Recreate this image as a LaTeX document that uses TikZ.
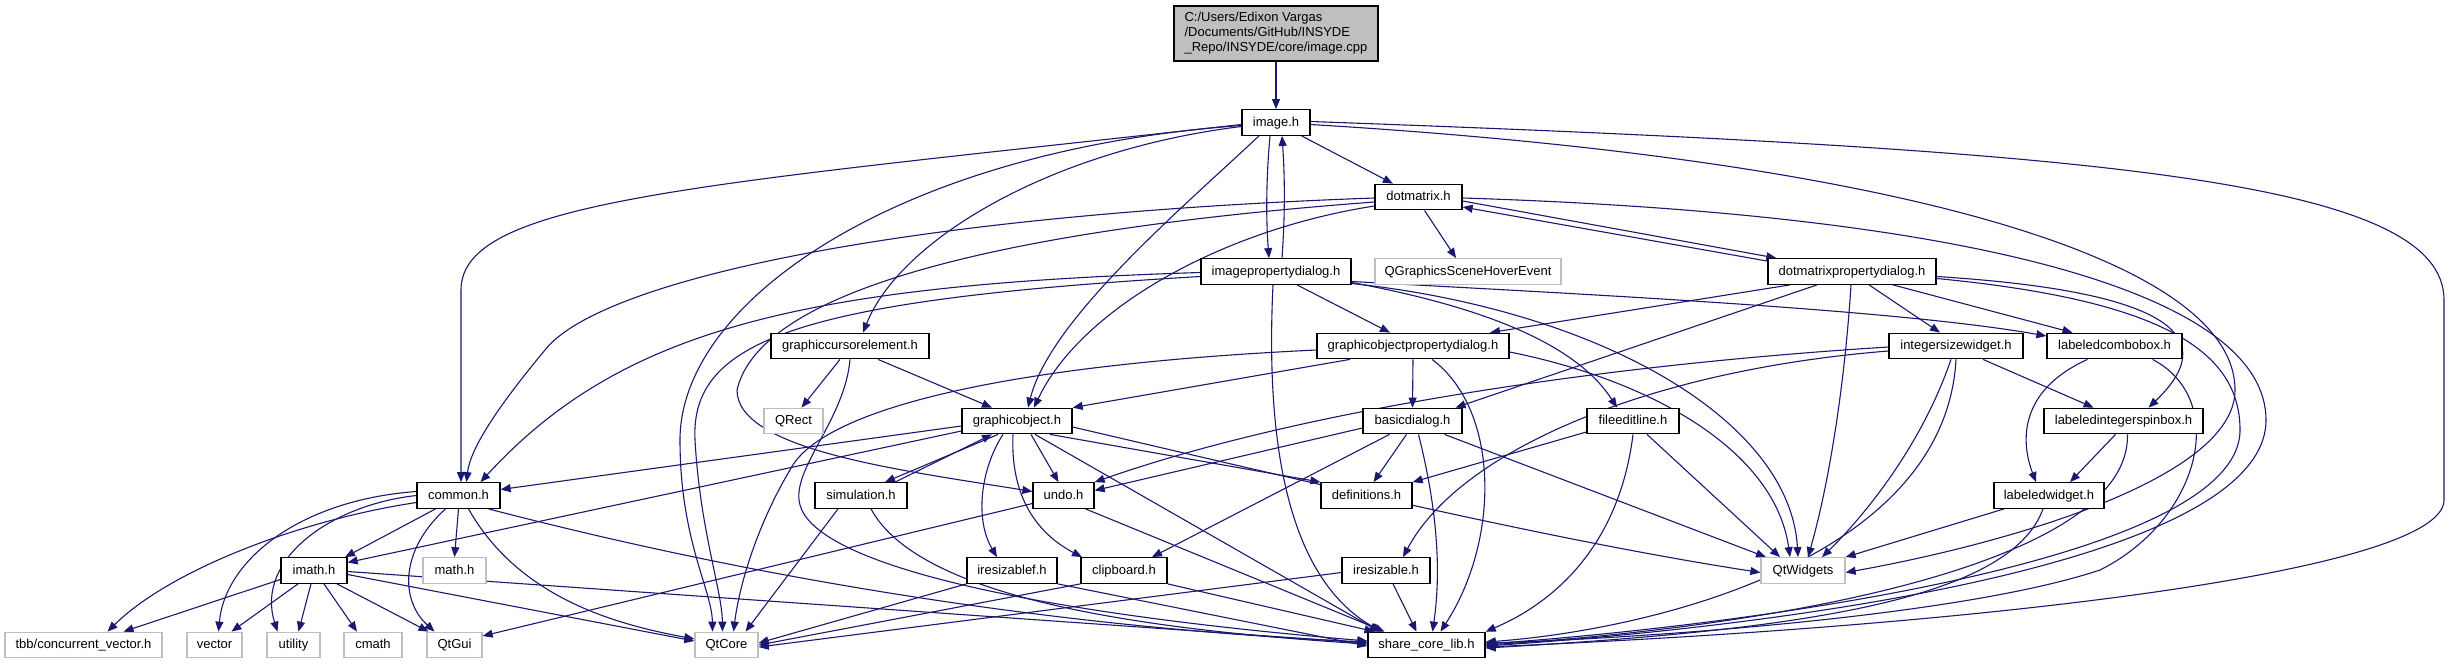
\documentclass[tikz,border=0pt]{standalone}
\usepackage{fontspec}
\setmainfont{Liberation Sans}
\usetikzlibrary{arrows.meta,backgrounds}
\definecolor{edgeblue}{RGB}{25,25,112}
\definecolor{extgrey}{RGB}{191,191,191}
\definecolor{rootgrey}{RGB}{191,191,191}
\begin{document}
\begin{tikzpicture}[x=1pt,y=-1pt,
  hdr/.style={draw=black, line width=1.3pt, fill=white, minimum height=25.5pt, inner sep=0pt,
              text height=9.5pt, text depth=2.5pt, font=\fontsize{13pt}{15pt}\selectfont},
  ext/.style={hdr, draw=extgrey},
  rootbox/.style={draw=black, line width=1.3pt, fill=rootgrey, minimum width=204pt, minimum height=55pt,
              inner sep=0pt, align=left, font=\fontsize{13pt}{15pt}\selectfont},
  edge/.style={draw=edgeblue, line width=1.1pt, -{Triangle[length=10pt,width=8pt]}}]
\useasboundingbox (0,0) rectangle (2449,664);

% ---------- nodes ----------
\node[rootbox] (root) at (1276,33.5) {C:/Users/Edixon Vargas\\/Documents/GitHub/INSYDE\\\_Repo/INSYDE/core/image.cpp};
\node[hdr, minimum width=68pt]  (image)     at (1276,122.5) {image.h};
\node[hdr, minimum width=87pt]  (dotmatrix) at (1418.5,197) {dotmatrix.h};
\node[ext, minimum width=186pt] (qgshe)     at (1468,271.5) {QGraphicsSceneHoverEvent};
\node[hdr, minimum width=150pt] (ipd)       at (1276,271.5) {imagepropertydialog.h};
\node[hdr, minimum width=168pt] (dmpd)      at (1852,271.5) {dotmatrixpropertydialog.h};
\node[hdr, minimum width=158pt] (gce)       at (850,346) {graphiccursorelement.h};
\node[hdr, minimum width=192pt] (gopd)      at (1413,346) {graphicobjectpropertydialog.h};
\node[hdr, minimum width=134pt] (isw)       at (1956,346) {integersizewidget.h};
\node[hdr, minimum width=135pt] (lcb)       at (2114.5,346) {labeledcombobox.h};
\node[ext, minimum width=59pt]  (qrect)     at (793.5,421) {QRect};
\node[hdr, minimum width=110pt] (go)        at (1017,421) {graphicobject.h};
\node[hdr, minimum width=99pt]  (bd)        at (1412.5,421) {basicdialog.h};
\node[hdr, minimum width=92pt]  (fel)       at (1633,421) {fileeditline.h};
\node[hdr, minimum width=159pt] (lisb)      at (2123.5,421) {labeledintegerspinbox.h};
\node[hdr, minimum width=83pt]  (common)    at (458.5,495.5) {common.h};
\node[hdr, minimum width=92pt]  (sim)       at (861,495.5) {simulation.h};
\node[hdr, minimum width=61pt]  (undo)      at (1063.5,495.5) {undo.h};
\node[hdr, minimum width=91pt]  (defs)      at (1366.5,495.5) {definitions.h};
\node[hdr, minimum width=110pt] (lw)        at (2049,495.5) {labeledwidget.h};
\node[hdr, minimum width=66pt]  (imath)     at (314,570.5) {imath.h};
\node[ext, minimum width=63pt]  (mathh)     at (454.5,570.5) {math.h};
\node[hdr, minimum width=90pt]  (iresf)     at (1012,570.5) {iresizablef.h};
\node[hdr, minimum width=86pt]  (clip)      at (1124,570.5) {clipboard.h};
\node[hdr, minimum width=88pt]  (iresz)     at (1386,570.5) {iresizable.h};
\node[ext, minimum width=84pt]  (qtw)       at (1803,570.5) {QtWidgets};
\node[ext, minimum width=157pt] (tbb)       at (83.5,645) {tbb/concurrent\_vector.h};
\node[ext, minimum width=55pt]  (vector)    at (214.5,645) {vector};
\node[ext, minimum width=53pt]  (utility)   at (293.5,645) {utility};
\node[ext, minimum width=58pt]  (cmath)     at (373,645) {cmath};
\node[ext, minimum width=55pt]  (qtgui)     at (454.5,645) {QtGui};
\node[ext, minimum width=63pt]  (qtcore)    at (726.5,645) {QtCore};
\node[hdr, minimum width=117pt] (scl)       at (1426.5,645) {share\_core\_lib.h};

% ---------- edges ----------
\begin{scope}[on background layer]
\fill[white] (0,0) rectangle (2449,664);
% root / image
\draw[edge] (root.south) -- (image.north);
\draw[edge] (image) -- (dotmatrix);
\draw[edge] ([xshift=-6pt]image.south) .. controls (1266,180) and (1266,220) .. ([xshift=-7pt]ipd.north);
\draw[edge] ([xshift=6pt]ipd.north) .. controls (1285,215) and (1285,180) .. ([xshift=6pt]image.south);
\draw[edge] ([yshift=-2pt]image.west) .. controls (700,185) and (461,200) .. (461,290) -- ([xshift=2.5pt]common.north);
\draw[edge] ([yshift=-4pt]image.west) .. controls (1050,150) and (900,240) .. ([xshift=13pt]gce.north);
\draw[edge] ([xshift=-17pt]image.south) .. controls (1180,210) and (1050,320) .. ([xshift=11pt]go.north);
\draw[edge] ([yshift=-3pt]image.west) .. controls (900,150) and (680,300) .. (680,440) .. controls (680,540) and (712,590) .. ([xshift=-14pt]qtcore.north);
\draw[edge] ([yshift=-2pt]image.east) .. controls (1900,160) and (2235,260) .. (2235,390) .. controls (2235,480) and (2000,545) .. ([yshift=-2pt]qtw.east);
\draw[edge] ([yshift=1pt]image.east) .. controls (2100,150) and (2444,180) .. (2444,300) -- (2444,500) .. controls (2444,570) and (2000,625) .. ([yshift=-2pt]scl.east);
% dotmatrix
\draw[edge] ([xshift=6pt]dotmatrix.south) -- ([xshift=-12pt]qgshe.north);
\draw[edge] ([yshift=-4pt]dotmatrix.east) -- ([xshift=9pt]dmpd.north west);
\draw[edge] ([yshift=-3pt]dmpd.north west) -- ([yshift=-10pt]dotmatrix.east);
\draw[edge] ([yshift=-1pt]dotmatrix.west) .. controls (900,215) and (600,280) .. (545,350) .. controls (495,410) and (470,450) .. ([xshift=8pt]common.north);
\draw[edge] ([yshift=-5pt]dotmatrix.west) .. controls (1000,230) and (760,290) .. (737,390) .. controls (737,450) and (900,470) .. ([yshift=4pt]undo.west);
\draw[edge] ([yshift=-9pt]dotmatrix.west) .. controls (1220,230) and (1080,310) .. ([xshift=17pt]go.north);
\draw[edge] ([yshift=-1pt]dotmatrix.east) .. controls (2000,215) and (2266,300) .. (2266,420) .. controls (2266,560) and (1800,625) .. ([yshift=-1pt]scl.east);
% imagepropertydialog
\draw[edge] ([xshift=21pt]ipd.south) -- ([xshift=-23pt]gopd.north);
\draw[edge] ([yshift=-1pt]ipd.west) .. controls (800,285) and (620,330) .. ([xshift=22pt]common.north);
\draw[edge] ([yshift=-5pt]ipd.west) .. controls (800,300) and (690,340) .. (695,440) .. controls (700,530) and (722,590) .. ([xshift=-4pt]qtcore.north);
\draw[edge] ([xshift=-3pt]ipd.south) .. controls (1265,450) and (1290,580) .. ([xshift=-45pt]scl.north);
\draw[edge] ([yshift=-11pt]ipd.east) .. controls (1500,310) and (1580,350) .. ([xshift=-16pt]fel.north);
\draw[edge] ([yshift=-10pt]ipd.east) .. controls (1600,295) and (1900,310) .. ([yshift=10pt]lcb.west);
\draw[edge] ([yshift=-12pt]ipd.east) .. controls (1600,310) and (1790,420) .. ([xshift=-5pt]qtw.north);
% dotmatrixpropertydialog
\draw[edge] ([xshift=-62pt]dmpd.south) -- ([xshift=77pt]gopd.north);
\draw[edge] ([xshift=-35pt]dmpd.south) -- ([xshift=43pt]bd.north);
\draw[edge] ([xshift=-1pt]dmpd.south) .. controls (1845,380) and (1830,480) .. ([xshift=5pt]qtw.north);
\draw[edge] ([xshift=17pt]dmpd.south) -- ([xshift=-16pt]isw.north);
\draw[edge] ([xshift=41pt]dmpd.south) -- ([xshift=-42pt]lcb.north);
\draw[edge] ([yshift=-5pt]dmpd.east) .. controls (2150,290) and (2230,330) .. ([xshift=25pt]lisb.north);
\draw[edge] ([yshift=-7pt]dmpd.east) .. controls (2160,300) and (2240,350) .. (2240,430) .. controls (2240,560) and (1750,625) .. ([yshift=1pt]scl.east);
% graphicobjectpropertydialog
\draw[edge] ([xshift=-63pt]gopd.south) -- (go.north east);
\draw[edge] (gopd.south) -- (bd.north);
\draw[edge] ([xshift=19pt]gopd.south) .. controls (1500,410) and (1500,540) .. ([xshift=14pt]scl.north);
\draw[edge] ([yshift=-4pt]gopd.west) .. controls (1000,365) and (820,410) .. (790,470) .. controls (760,520) and (740,580) .. ([xshift=7pt]qtcore.north);
\draw[edge] ([yshift=-6pt]gopd.east) .. controls (1650,380) and (1775,450) .. ([xshift=-13pt]qtw.north);
% graphiccursorelement
\draw[edge] ([xshift=-10pt]gce.south) -- ([xshift=8pt]qrect.north);
\draw[edge] ([xshift=28pt]gce.south) -- ([xshift=-25pt]go.north);
\draw[edge] (gce.south) .. controls (845,420) and (790,470) .. (800,505) .. controls (815,560) and (1000,610) .. ([yshift=4pt]scl.west);
% graphicobject
\draw[edge] ([yshift=-5pt]go.west) -- ([yshift=6pt]common.east);
\draw[edge] ([yshift=-10pt]go.west) -- ([yshift=8pt]imath.east);
\draw[edge] ([xshift=-19pt]go.south) -- ([xshift=24pt]sim.north);
\draw[edge] ([xshift=34pt]sim.north) -- ([xshift=-25pt]go.south);
\draw[edge] ([xshift=14pt]go.south) -- ([xshift=-5pt]undo.north);
\draw[edge] ([xshift=-14pt]go.south) .. controls (980,470) and (975,520) .. ([xshift=-15pt]iresf.north);
\draw[edge] ([xshift=-4pt]go.south) .. controls (1010,500) and (1040,535) .. ([xshift=-42pt]clip.north);
\draw[edge] ([xshift=33pt]go.south) -- (defs.north west);
\draw[edge] ([xshift=18pt]go.south) -- ([xshift=-47pt]scl.north);
\draw[edge] ([yshift=-6pt]go.east) .. controls (1300,480) and (1550,540) .. ([yshift=-2pt]qtw.west);
% basicdialog
\draw[edge] ([yshift=-7pt]bd.west) -- ([yshift=5pt]undo.east);
\draw[edge] ([xshift=-6pt]bd.south) -- ([xshift=7pt]defs.north);
\draw[edge] ([xshift=-23pt]bd.south) -- ([xshift=28pt]clip.north);
\draw[edge] ([xshift=32pt]bd.south) -- ([xshift=-37pt]qtw.north);
\draw[edge] ([xshift=6pt]bd.south) .. controls (1440,520) and (1440,580) .. ([xshift=6pt]scl.north);
% fileeditline
\draw[edge] ([yshift=-11pt]fel.west) -- (defs.north east);
\draw[edge] ([xshift=14pt]fel.south) -- ([xshift=-23pt]qtw.north);
\draw[edge] (fel.south) .. controls (1620,540) and (1560,600) .. (scl.north east);
% integersizewidget
\draw[edge] ([yshift=-1pt]isw.west) .. controls (1600,365) and (1300,410) .. (undo.north east);
\draw[edge] ([yshift=-5pt]isw.west) .. controls (1650,370) and (1460,450) .. ([xshift=17pt]iresz.north);
\draw[edge] ([xshift=27pt]isw.south) -- ([xshift=-30pt]lisb.north);
\draw[edge] ([xshift=-5pt]isw.south) .. controls (1920,450) and (1860,520) .. ([xshift=19pt]qtw.north);
\draw[edge] (isw.south) .. controls (1945,560) and (1650,630) .. ([yshift=3pt]scl.east);
% labeledcombobox / spinbox / widget
\draw[edge] ([xshift=-27pt]lcb.south) .. controls (2020,390) and (2020,440) .. ([xshift=-13pt]lw.north);
\draw[edge] ([xshift=38pt]lcb.south) .. controls (2230,400) and (2200,520) .. (2100,570) .. controls (1950,620) and (1600,640) .. ([yshift=2pt]scl.east);
\draw[edge] ([xshift=-8pt]lisb.south) -- ([xshift=21pt]lw.north);
\draw[edge] ([xshift=4pt]lisb.south) .. controls (2130,560) and (1800,625) .. (scl.east);
\draw[edge] ([xshift=-45pt]lw.south) -- (qtw.north east);
\draw[edge] ([xshift=-6pt]lw.south) .. controls (2010,600) and (1800,630) .. ([yshift=-3pt]scl.east);
% common
\draw[edge] ([xshift=-23pt]common.south) -- ([xshift=31pt]imath.north);
\draw[edge] (common.south) -- (mathh.north);
\draw[edge] ([xshift=-13pt]common.south) .. controls (400,550) and (400,600) .. ([xshift=-20pt]qtgui.north);
\draw[edge] ([xshift=10pt]common.south) .. controls (520,600) and (620,625) .. ([yshift=6pt]qtcore.west);
\draw[edge] ([xshift=30pt]common.south) .. controls (800,590) and (1100,630) .. ([yshift=3pt]scl.west);
\draw[edge] ([yshift=-7pt]common.west) .. controls (300,520) and (170,570) .. ([xshift=24pt]tbb.north);
\draw[edge] ([yshift=4pt]common.west) .. controls (300,500) and (225,560) .. ([xshift=4pt]vector.north);
\draw[edge] (common.west) .. controls (330,505) and (255,560) .. ([xshift=-16pt]utility.north);
% imath
\draw[edge] ([yshift=-9pt]imath.west) -- ([xshift=40pt]tbb.north);
\draw[edge] ([xshift=-16pt]imath.south) -- ([xshift=17pt]vector.north);
\draw[edge] ([xshift=-3pt]imath.south) -- ([xshift=5pt]utility.north);
\draw[edge] ([xshift=10pt]imath.south) -- ([xshift=-16pt]cmath.north);
\draw[edge] ([xshift=23pt]imath.south) -- ([xshift=-26pt]qtgui.north);
\draw[edge] ([yshift=-4pt]imath.east) -- ([yshift=4pt]qtcore.west);
\draw[edge] ([yshift=-1pt]imath.east) -- ([yshift=2pt]scl.west);
% simulation / undo / iresizable* / clipboard
\draw[edge] ([xshift=-23pt]sim.south) -- ([xshift=19pt]qtcore.north);
\draw[edge] ([xshift=10pt]sim.south) .. controls (920,600) and (1150,630) .. ([yshift=1pt]scl.west);
\draw[edge] ([yshift=-8pt]undo.west) -- ([yshift=9pt]qtgui.east);
\draw[edge] ([xshift=22pt]undo.south) -- ([xshift=-42pt]scl.north);
\draw[edge] (iresf.south west) -- ([yshift=2pt]qtcore.east);
\draw[edge] (iresf.south east) -- ([yshift=-1pt]scl.west);
\draw[edge] (clip.south west) -- (qtcore.east);
\draw[edge] (clip.south east) -- ([xshift=-52pt]scl.north);
\draw[edge] ([yshift=-2pt]iresz.west) -- ([yshift=-2pt]qtcore.east);
\draw[edge] ([xshift=7pt]iresz.south) -- ([xshift=-10pt]scl.north);
\end{scope}
\end{tikzpicture}
\end{document}
